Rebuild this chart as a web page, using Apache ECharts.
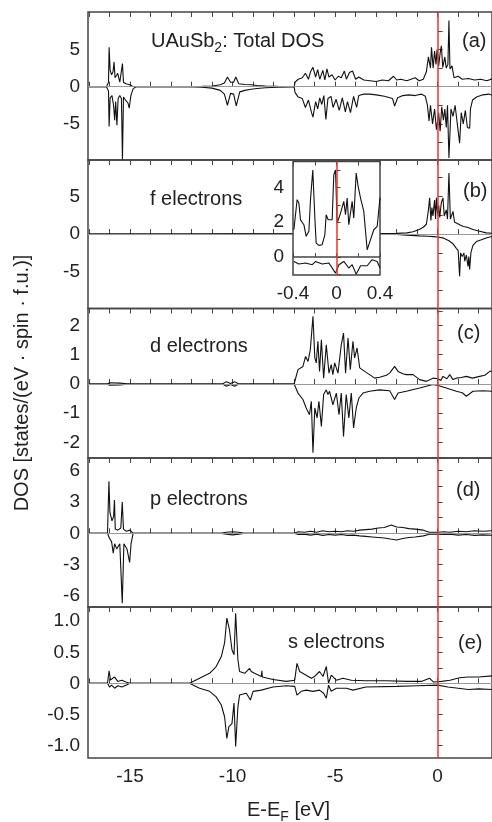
<!DOCTYPE html>
<html>
<head>
<meta charset="utf-8">
<script src="https://cdn.jsdelivr.net/npm/echarts@6/dist/echarts.min.js"></script>
<style>
  html, body { margin: 0; padding: 0; background: #fff; }
  #main { width: 492px; height: 822px; }
</style>
</head>
<body>
<div id="main"></div>
<script>
// energy axis ticks / labels (eV)
var xTicks = [-17,-16,-15,-14,-13,-12,-11,-10,-9,-8,-7,-6,-5,-4,-3,-2,-1,0,1,2];
var xLabels = [-15, -10, -5, 0];

// (a) total DOS, spin up / spin down
var totUp = [[-17,0],[-16.15,0],[-16.05,0.6],[-16.02,5.3],[-15.97,2.2],[-15.9,1.6],[-15.83,2.0],[-15.78,3.3],[-15.73,1.2],[-15.66,1.5],[-15.6,1.8],[-15.5,0.6],[-15.42,0.8],[-15.37,3.1],[-15.32,0.6],[-15.2,0.4],[-15.04,0.3],[-14.9,0.1],[-14.8,0],
  [-12.2,0],[-11.5,0.05],[-11,0.1],[-10.6,0.25],[-10.4,0.5],[-10.25,1.3],[-10.1,0.6],[-9.95,0.6],[-9.84,1.3],[-9.7,0.4],[-9.4,0.3],[-9.1,0.25],[-8.8,0.15],[-8.4,0.1],[-7.8,0.05],[-7.1,0.02],
  [-7,0],[-6.95,0.6],[-6.8,1.0],[-6.6,1.2],[-6.45,1.8],[-6.3,1.0],[-6.2,2.0],[-6.08,2.6],[-5.95,1.3],[-5.85,2.3],[-5.75,1.0],[-5.6,2.2],[-5.5,0.9],[-5.4,2.4],[-5.3,1.3],[-5.15,1.6],[-5.0,0.9],[-4.85,1.4],[-4.7,1.2],[-4.55,2.1],[-4.45,1.0],[-4.3,1.9],[-4.15,2.1],[-4.0,1.0],[-3.85,1.3],[-3.6,0.9],[-3.3,0.8],[-3.0,0.7],[-2.7,0.9],[-2.4,0.8],[-2.15,1.4],[-2.0,0.9],[-1.8,1.0],[-1.5,0.8],[-1.3,1.0],[-1.1,1.2],[-0.9,0.8],[-0.7,1.0],[-0.55,2.0],[-0.45,4.0],[-0.35,2.5],[-0.3,5.3],[-0.22,2.5],[-0.15,4.8],[-0.08,3.0],[-0.03,5.0],[0.05,2.8],[0.12,4.5],[0.18,5.5],[0.25,2.6],[0.35,4.0],[0.42,2.5],[0.5,3.0],[0.55,8.9],[0.6,2.4],[0.7,2.8],[0.8,1.2],[1.0,1.4],[1.2,1.0],[1.5,1.1],[1.8,0.9],[2.1,1.0],[2.4,0.8],[2.7,1.1]];
var totDn = [[-17,0],[-16.15,0],[-16.05,-0.6],[-16.02,-5.35],[-15.97,-1.5],[-15.88,-1.2],[-15.8,-2.6],[-15.75,-4.5],[-15.7,-2.0],[-15.64,-5.2],[-15.58,-1.6],[-15.5,-1.2],[-15.42,-1.6],[-15.37,-9.8],[-15.32,-1.4],[-15.22,-1.8],[-15.1,-2.2],[-15.04,-2.9],[-14.96,-1.2],[-14.85,-0.3],[-14.7,0],
  [-12.2,0],[-11.5,-0.08],[-11,-0.2],[-10.6,-0.5],[-10.4,-1.0],[-10.25,-2.5],[-10.1,-0.9],[-9.95,-1.0],[-9.82,-2.6],[-9.65,-0.7],[-9.4,-0.5],[-9.1,-0.35],[-8.8,-0.25],[-8.4,-0.15],[-7.8,-0.08],[-7.1,-0.03],
  [-7,0],[-6.95,-0.8],[-6.8,-1.4],[-6.6,-1.6],[-6.45,-2.8],[-6.3,-1.8],[-6.15,-3.5],[-6.08,-4.1],[-5.95,-2.0],[-5.85,-3.0],[-5.75,-1.5],[-5.65,-2.4],[-5.55,-1.2],[-5.45,-4.4],[-5.35,-1.6],[-5.2,-1.3],[-5.1,-2.8],[-4.95,-1.7],[-4.8,-3.2],[-4.65,-1.5],[-4.5,-3.4],[-4.4,-2.0],[-4.25,-3.5],[-4.1,-1.3],[-3.95,-2.8],[-3.85,-1.2],[-3.6,-1.0],[-3.3,-1.0],[-3.0,-1.1],[-2.6,-1.3],[-2.2,-1.6],[-2.1,-2.6],[-1.95,-1.5],[-1.7,-1.2],[-1.4,-1.1],[-1.1,-1.2],[-0.8,-1.0],[-0.6,-1.3],[-0.5,-2.5],[-0.42,-4.6],[-0.35,-2.5],[-0.25,-5.0],[-0.15,-3.0],[-0.06,-5.8],[0.05,-3.5],[0.12,-6.0],[0.2,-2.7],[0.28,-4.5],[0.35,-3.0],[0.42,-5.5],[0.48,-2.5],[0.55,-9.6],[0.65,-3.0],[0.75,-4.0],[0.85,-2.5],[0.95,-4.8],[1.07,-7.6],[1.15,-3.5],[1.25,-5.0],[1.35,-3.2],[1.45,-5.5],[1.56,-5.6],[1.6,-3.0],[1.7,-1.8],[1.9,-1.4],[2.2,-1.1],[2.5,-1.0],[2.7,-1.2]];

// (b) f electrons
var fUp = [[-17,0],[-12,0],[-10,0.02],[-7,0.02],[-3,0.05],[-2,0.08],[-1.5,0.15],[-1.2,0.3],[-0.9,0.6],[-0.7,0.9],[-0.55,1.3],[-0.45,3.2],[-0.39,4.8],[-0.33,1.8],[-0.28,3.5],[-0.23,2.4],[-0.15,4.5],[-0.1,2.0],[-0.06,4.8],[0,2.6],[0.05,3.8],[0.1,2.2],[0.18,4.2],[0.26,4.8],[0.32,2.4],[0.42,3.2],[0.48,2.0],[0.55,8.1],[0.62,2.0],[0.67,2.1],[0.75,3.0],[0.82,1.6],[0.91,1.5],[1.1,1.2],[1.25,1.0],[1.45,0.9],[1.72,0.6],[2.0,0.4],[2.37,0.15],[2.7,0.1]];
var fDn = [[-17,0],[-3,0],[-2,-0.05],[-1.5,-0.15],[-0.9,-0.25],[-0.5,-0.3],[-0.2,-0.35],[0,-0.4],[0.3,-0.55],[0.55,-0.9],[0.75,-1.3],[0.91,-1.9],[1.0,-2.2],[1.07,-5.6],[1.12,-2.5],[1.2,-3.0],[1.28,-2.5],[1.32,-3.6],[1.4,-2.8],[1.48,-4.3],[1.52,-3.0],[1.56,-4.7],[1.62,-2.5],[1.72,-1.5],[1.89,-1.0],[2.1,-0.8],[2.4,-0.5],[2.7,-0.3]];

// (b) inset, f electrons near E_F
var insUp = [[-0.392,1.57],[-0.362,3.3],[-0.346,3.1],[-0.331,2.14],[-0.3,1.86],[-0.279,1.19],[-0.254,1.48],[-0.239,3.3],[-0.218,5.0],[-0.199,2.24],[-0.187,0.8],[-0.162,0.67],[-0.132,0.71],[-0.107,1.28],[-0.095,2.43],[-0.077,2.14],[-0.04,2.14],[-0.025,4.73],[-0.009,5.0],[0.006,1.95],[0.037,2.52],[0.067,3.2],[0.083,2.43],[0.098,3.39],[0.113,1.86],[0.144,3.2],[0.159,2.24],[0.181,4.83],[0.199,4.06],[0.221,3.39],[0.251,2.62],[0.282,0.42],[0.313,1.0],[0.343,1.57],[0.374,1.76],[0.4,3.4]];
var insDn = [[-0.392,-0.25],[-0.346,-0.4],[-0.285,-0.34],[-0.223,-0.44],[-0.192,-0.25],[-0.132,-0.4],[-0.07,-0.34],[-0.009,-0.92],[0.022,-0.44],[0.067,-0.25],[0.113,-0.63],[0.144,-0.44],[0.181,-0.98],[0.221,-0.5],[0.282,-0.5],[0.328,-0.15],[0.374,-0.25],[0.4,-0.63]];

// (c) d electrons
var dUp = [[-17,0],[-16.1,0],[-16,0.04],[-15.5,0.03],[-15,0],[-10.5,0],[-10.3,0.08],[-10.1,0.02],[-9.9,0.08],[-9.7,0],[-7,0],
  [-6.98,0],[-6.81,0.49],[-6.57,0.6],[-6.44,0.94],[-6.32,0.77],[-6.21,1.17],[-6.08,2.31],[-5.99,0.89],[-5.92,0.72],[-5.84,1.46],[-5.76,0.43],[-5.67,1.51],[-5.56,0.2],[-5.43,1.34],[-5.3,0.37],[-5.19,0.66],[-5.11,0.32],[-5.02,0.72],[-4.86,0.37],[-4.7,1.34],[-4.59,1.74],[-4.49,0.37],[-4.37,1.57],[-4.26,0.49],[-4.13,1.46],[-4.05,0.89],[-3.93,1.23],[-3.8,0.55],[-3.56,0.43],[-3.32,0.32],[-3.07,0.2],[-2.83,0.23],[-2.5,0.3],[-2.34,0.37],[-2.1,0.6],[-1.93,0.43],[-1.7,0.35],[-1.53,0.32],[-1.2,0.32],[-0.88,0.15],[-0.55,0.09],[-0.35,0.15],[-0.23,0.2],[0.02,0.18],[0.15,0.12],[0.26,0.26],[0.45,0.18],[0.59,0.32],[0.75,0.15],[0.91,0.2],[1.15,0.22],[1.4,0.26],[1.7,0.2],[2.05,0.26],[2.3,0.3],[2.54,0.43],[2.7,0.45]];
var dDn = [[-17,0],[-16.1,0],[-16,-0.04],[-15.5,-0.03],[-15,0],[-10.5,0],[-10.3,-0.08],[-10.1,-0.02],[-9.9,-0.08],[-9.7,0],[-7,0],
  [-6.98,0],[-6.81,-0.31],[-6.57,-0.53],[-6.41,-0.82],[-6.25,-1.05],[-6.16,-0.59],[-6.08,-2.35],[-5.99,-0.82],[-5.88,-1.16],[-5.79,-0.59],[-5.67,-1.45],[-5.56,-0.36],[-5.43,-0.2],[-5.35,-0.36],[-5.27,-0.25],[-5.11,-0.71],[-4.94,-0.31],[-4.81,-1.05],[-4.7,-0.31],[-4.59,-1.79],[-4.46,-0.36],[-4.33,-1.16],[-4.21,-0.31],[-4.1,-1.5],[-3.97,-0.82],[-3.84,-0.48],[-3.64,-0.31],[-3.32,-0.25],[-2.83,-0.2],[-2.34,-0.23],[-2.1,-0.53],[-1.93,-0.31],[-1.53,-0.25],[-0.88,-0.14],[-0.23,-0.02],[0.02,-0.05],[0.42,-0.14],[0.91,-0.25],[1.2,-0.3],[1.4,-0.42],[1.72,-0.25],[2.21,-0.23],[2.7,-0.25]];

// (d) p electrons
var pUp = [[-17,0],[-16.1,0],[-16.03,5.0],[-15.98,2.0],[-15.88,1.2],[-15.8,1.6],[-15.76,3.2],[-15.72,0.4],[-15.6,0.3],[-15.45,0.5],[-15.38,3.0],[-15.32,0.4],[-15.2,0.2],[-15.0,0.3],[-14.85,0],[-10.6,0],[-10.3,0.1],[-10,0.15],[-9.7,0.1],[-9.4,0],[-7,0],
  [-6.8,0.15],[-6.5,0.1],[-6.2,0.2],[-5.9,0.1],[-5.6,0.25],[-5.3,0.15],[-5.0,0.2],[-4.7,0.15],[-4.4,0.25],[-4.1,0.2],[-3.8,0.3],[-3.5,0.35],[-3.2,0.4],[-2.9,0.5],[-2.6,0.55],[-2.26,0.8],[-2.0,0.6],[-1.7,0.55],[-1.4,0.45],[-1.1,0.4],[-0.7,0.3],[-0.4,0.1],[0,0.1],[0.3,0.15],[0.6,0.1],[1.0,0.2],[1.4,0.15],[1.8,0.25],[2.2,0.2],[2.7,0.25]];
var pDn = [[-17,0],[-16.1,0],[-16.0,-0.5],[-15.9,-0.8],[-15.82,-1.9],[-15.75,-1.0],[-15.65,-1.5],[-15.5,-1.0],[-15.38,-6.7],[-15.3,-1.0],[-15.15,-1.5],[-15.02,-2.8],[-14.95,-1.0],[-14.85,0],[-10.6,0],[-10.3,-0.1],[-10,-0.15],[-9.7,-0.1],[-9.4,0],[-7,0],
  [-6.8,-0.12],[-6.5,-0.08],[-6.2,-0.18],[-5.9,-0.1],[-5.6,-0.2],[-5.3,-0.12],[-5.0,-0.18],[-4.7,-0.12],[-4.4,-0.2],[-4.1,-0.18],[-3.8,-0.25],[-3.5,-0.3],[-3.2,-0.35],[-2.9,-0.4],[-2.6,-0.45],[-2.3,-0.55],[-2.0,-0.64],[-1.7,-0.5],[-1.4,-0.4],[-1.1,-0.35],[-0.7,-0.25],[-0.4,-0.1],[0,-0.08],[0.3,-0.12],[0.6,-0.1],[1.0,-0.18],[1.4,-0.12],[1.8,-0.2],[2.2,-0.15],[2.7,-0.2]];

// (e) s electrons
var sUp = [[-17,0],[-16.1,0],[-16.02,0.2],[-15.95,0.05],[-15.85,0.08],[-15.75,0.1],[-15.6,0.03],[-15.4,0.05],[-15.2,0.02],[-15,0],[-12.1,0],[-11.61,0.08],[-11.12,0.16],[-10.8,0.27],[-10.55,0.43],[-10.39,0.65],[-10.28,1.05],[-10.15,0.86],[-10.03,0.54],[-9.93,0.46],[-9.85,1.13],[-9.74,0.38],[-9.66,0.19],[-9.41,0.16],[-9.17,0.24],[-9.09,0.19],[-8.93,0.16],[-8.6,0.11],[-8.57,0.2],[-8.55,0.1],[-8.03,0.06],[-7.38,0.03],[-6.97,0.05],[-6.86,0.32],[-6.73,0.19],[-6.41,0.13],[-6.16,0.08],[-6.0,0.11],[-5.76,0.19],[-5.59,0.11],[-5.43,0.27],[-5.32,0.0],[-5.19,0.13],[-4.94,0.05],[-4.62,0.08],[-4.21,0.05],[-3.5,0.04],[-2.5,0.04],[-1.5,0.03],[-0.8,0.03],[-0.39,0.08],[-0.2,0.02],[0.2,0.03],[0.6,0.05],[1.07,0.09],[1.5,0.1],[2.0,0.1],[2.7,0.12]];
var sDn = [[-17,0],[-16.1,0],[-16.0,-0.06],[-15.9,-0.03],[-15.75,-0.08],[-15.6,-0.04],[-15.4,-0.06],[-15.2,-0.03],[-15,0],[-12.1,0],[-11.61,-0.08],[-11.12,-0.13],[-10.8,-0.22],[-10.55,-0.35],[-10.39,-0.54],[-10.28,-0.89],[-10.18,-0.7],[-10.03,-0.65],[-9.93,-0.32],[-9.85,-1.02],[-9.74,-0.38],[-9.66,-0.19],[-9.33,-0.16],[-9.13,-0.27],[-9.0,-0.13],[-8.6,-0.11],[-8.03,-0.06],[-7.38,-0.04],[-6.97,-0.05],[-6.86,-0.19],[-6.65,-0.13],[-6.41,-0.11],[-6.08,-0.13],[-5.76,-0.11],[-5.56,-0.16],[-5.43,-0.24],[-5.32,-0.03],[-5.19,-0.13],[-4.94,-0.08],[-4.45,-0.08],[-4.13,-0.11],[-3.5,-0.06],[-2,-0.05],[-1,-0.04],[0,-0.03],[0.5,-0.06],[1,-0.08],[1.5,-0.1],[2,-0.09],[2.7,-0.1]];

// y ticks / labels per panel
var yTicksF = [-7.5,-5,-2.5,0,2.5,5,7.5];
var yLabelsF = [-5,0,5];
var yTicksD = [-2.5,-2,-1.5,-1,-0.5,0,0.5,1,1.5,2,2.5];
var yLabelsD = [-2,-1,0,1,2];
var yTicksP = [-6,-4.5,-3,-1.5,0,1.5,3,4.5,6];
var yLabelsP = [-6,-3,0,3,6];
var yTicksS = [-1,-0.75,-0.5,-0.25,0,0.25,0.5,0.75,1];
var yLabelsS = [-1,-0.5,0,0.5,1];
var insXTicks = [-0.4,-0.2,0,0.2,0.4];
var insXLabels = [-0.4,0,0.4];
var insYTicks = [-1,0,1,2,3,4,5];
var insYLabels = [0,2,4];

var FONT = '"Liberation Sans", Arial, Helvetica, sans-serif';
var AX = '#444';

var myChart = echarts.init(document.getElementById('main'));

// layout of the stacked panels
var tops = [12, 160, 308.5, 458, 607];
var bots = [160, 308.5, 458, 607, 758];
var yMin = [-9.87, -9.89, -2.53, -7.07, -1.205];
var yMax = [10.05, 9.83, 2.58, 7.22, 1.23];
var yT = [yTicksF, yTicksF, yTicksD, yTicksP, yTicksS];
var yL = [yLabelsF, yLabelsF, yLabelsD, yLabelsP, yLabelsS];
var upData = [totUp, fUp, dUp, pUp, sUp];
var dnData = [totDn, fDn, dDn, pDn, sDn];

var fmt1 = function (v) { return v === 0 ? '0' : v.toFixed(1); };

var grids = [], xAxes = [], yAxes = [], series = [];
for (var i = 0; i < 5; i++) {
    grids.push({left: 88, width: 404, top: tops[i], height: bots[i] - tops[i],
        show: true, borderColor: AX, borderWidth: 1.5, backgroundColor: 'transparent'});
    xAxes.push({type: 'value', gridIndex: i, min: -17.05, max: 2.65, position: 'bottom',
        axisLine: {show: false}, splitLine: {show: false},
        axisTick: {inside: true, length: 5, customValues: xTicks, lineStyle: {color: AX}},
        axisLabel: {show: i === 4, customValues: xLabels, fontSize: 19, color: '#222', margin: 9, fontFamily: FONT}});
    xAxes.push({type: 'value', gridIndex: i, min: -17.05, max: 2.65, position: 'top',
        axisLine: {show: false}, splitLine: {show: false},
        axisTick: {inside: true, length: 5, customValues: xTicks, lineStyle: {color: AX}},
        axisLabel: {show: false}});
    yAxes.push({type: 'value', gridIndex: i, min: yMin[i], max: yMax[i],
        axisLine: {show: false}, splitLine: {show: false},
        axisTick: {inside: true, length: 5, customValues: yT[i], lineStyle: {color: AX}},
        axisLabel: {customValues: yL[i], fontSize: 19, color: '#222', margin: 8, fontFamily: FONT,
            formatter: i === 4 ? fmt1 : function (v) { return String(v); }}});
    series.push({type: 'line', xAxisIndex: 2 * i, yAxisIndex: i, data: upData[i],
        showSymbol: false, lineStyle: {color: '#111', width: 1.1}, animation: false,
        markLine: {silent: true, symbol: ['none', 'none'], label: {show: false}, animation: false,
            data: [{yAxis: 0, lineStyle: {color: '#999', width: 1, type: 'solid'}}]}});
    series.push({type: 'line', xAxisIndex: 2 * i, yAxisIndex: i, data: dnData[i],
        showSymbol: false, lineStyle: {color: '#111', width: 1.1}, animation: false,
        markLine: {silent: true, symbol: ['none', 'none'], label: {show: false}, animation: false,
            data: [{xAxis: 0, lineStyle: {color: '#e8352c', width: 1.5, type: 'solid'}}]}});
}

// inset in panel (b)
grids.push({left: 293, width: 87, top: 161.5, height: 113.5, z: 10,
    show: true, borderColor: AX, borderWidth: 1.5, backgroundColor: '#fff'});
xAxes.push({type: 'value', gridIndex: 5, min: -0.4, max: 0.4, z: 11,
    axisLine: {show: false}, splitLine: {show: false},
    axisTick: {inside: true, length: 4, customValues: insXTicks, lineStyle: {color: AX}},
    axisLabel: {customValues: insXLabels, fontSize: 19, color: '#222', margin: 9, fontFamily: FONT, formatter: fmt1}});
xAxes.push({type: 'value', gridIndex: 5, min: -0.4, max: 0.4, position: 'top', z: 11,
    axisLine: {show: false}, splitLine: {show: false},
    axisTick: {inside: true, length: 4, customValues: insXTicks, lineStyle: {color: AX}},
    axisLabel: {show: false}});
yAxes.push({type: 'value', gridIndex: 5, min: -1.03, max: 5.49, z: 11,
    axisLine: {show: false}, splitLine: {show: false},
    axisTick: {inside: true, length: 4, customValues: insYTicks, lineStyle: {color: AX}},
    axisLabel: {customValues: insYLabels, fontSize: 19, color: '#222', margin: 9, fontFamily: FONT}});
series.push({type: 'line', xAxisIndex: 10, yAxisIndex: 5, data: insUp, z: 12,
    showSymbol: false, lineStyle: {color: '#111', width: 1.1}, animation: false,
    markLine: {silent: true, z: 13, symbol: ['none', 'none'], label: {show: false}, animation: false,
        data: [{yAxis: 0, lineStyle: {color: '#444', width: 1.5, type: 'solid'}}]}});
series.push({type: 'line', xAxisIndex: 10, yAxisIndex: 5, data: insDn, z: 12,
    showSymbol: false, lineStyle: {color: '#111', width: 1.1}, animation: false,
    markLine: {silent: true, z: 13, symbol: ['none', 'none'], label: {show: false}, animation: false,
        data: [{xAxis: 0, lineStyle: {color: '#e8352c', width: 1.5, type: 'solid'}}]}});

function txt(x, y, s, extra) {
    var st = {text: s, x: x, y: y, fill: '#222', fontSize: 20, fontFamily: FONT, verticalAlign: 'middle', align: 'left'};
    for (var k in extra) st[k] = extra[k];
    return {type: 'text', z: 20, style: st};
}

var option = {
    animation: false,
    grid: grids,
    xAxis: xAxes,
    yAxis: yAxes,
    series: series,
    graphic: [
        txt(151, 41, 'UAuSb{sub|2}: Total DOS', {rich: {sub: {fontSize: 14, fontFamily: FONT, padding: [14, 0, 0, 0], fill: '#222'}}}),
        txt(150, 199, 'f electrons'),
        txt(150, 346, 'd electrons'),
        txt(150, 499, 'p electrons'),
        txt(288, 642, 's electrons'),
        txt(462, 41, '(a)'),
        txt(463, 191, '(b)'),
        txt(457, 333, '(c)'),
        txt(456, 490, '(d)'),
        txt(458, 643, '(e)'),
        {type: 'text', z: 20, x: 22, y: 383, rotation: Math.PI / 2,
            style: {text: 'DOS [states/(eV \u00b7 spin \u00b7 f.u.)]', fill: '#222', fontSize: 20, fontFamily: FONT,
                align: 'center', verticalAlign: 'middle'}},
        txt(247, 810, 'E-E{sub|F} [eV]', {rich: {sub: {fontSize: 14, fontFamily: FONT, padding: [14, 0, 0, 0], fill: '#222'}}})
    ]
};
myChart.setOption(option);
</script>
</body>
</html>
